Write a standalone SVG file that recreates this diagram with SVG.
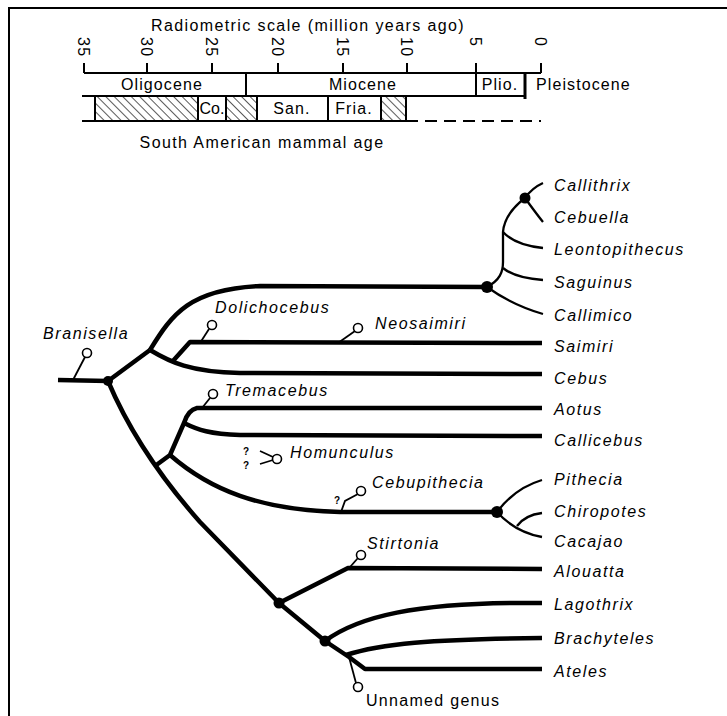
<svg xmlns="http://www.w3.org/2000/svg" width="727" height="716" viewBox="0 0 727 716">
<defs>
<pattern id="hatch" patternUnits="userSpaceOnUse" width="6" height="6" patternTransform="rotate(-45)">
<line x1="0" y1="0" x2="0" y2="6" stroke="#000" stroke-width="1.3"/>
</pattern>
<style>
.br{fill:none;stroke:#000;stroke-width:4.5;stroke-linejoin:round}
.thin{fill:none;stroke:#000;stroke-width:2.3}
.stem{fill:none;stroke:#000;stroke-width:1.8}
.fossil{fill:#fff;stroke:#000;stroke-width:1.6}
.dot{fill:#000}
.ax{fill:none;stroke:#000;stroke-width:2}
.lbl{font-family:"Liberation Sans",Arial,sans-serif;font-size:16px;font-style:italic;letter-spacing:1.6px;fill:#000}
.up{font-family:"Liberation Sans",Arial,sans-serif;font-size:16px;letter-spacing:1.3px;fill:#000}
.hdr{font-family:"Liberation Sans",Arial,sans-serif;font-size:16px;letter-spacing:1.1px;fill:#000}
.num{font-family:"Liberation Sans",Arial,sans-serif;font-size:16px;letter-spacing:1.4px;fill:#000}
.q{font-family:"Liberation Sans",Arial,sans-serif;font-size:10px;font-weight:bold;fill:#000}
</style>
</defs>
<rect width="727" height="716" fill="#fff"/>
<path class="ax" d="M9,716 L9,8 L727,8"/>

<g id="timescale">
<text class="hdr" x="308" y="31" text-anchor="middle" style="letter-spacing:1.4px">Radiometric scale (million years ago)</text>
<text class="num" transform="translate(78,37) rotate(90)">35</text>
<text class="num" transform="translate(141,37) rotate(90)">30</text>
<text class="num" transform="translate(206,37) rotate(90)">25</text>
<text class="num" transform="translate(272,37) rotate(90)">20</text>
<text class="num" transform="translate(337,37) rotate(90)">15</text>
<text class="num" transform="translate(401,37) rotate(90)">10</text>
<text class="num" transform="translate(470,37) rotate(90)">5</text>
<text class="num" transform="translate(535,37) rotate(90)">0</text>
<path class="ax" d="M84,63 L84,73 M147,63 L147,73 M212,63 L212,73 M278,63 L278,73 M343,63 L343,73 M407,63 L407,73 M476,63 L476,73 M541,63 L541,73 M84,73 L541,73"/>
<path class="ax" d="M82,96 L525,96 M246,73 L246,96 M476,73 L476,96"/>
<path d="M525,73 L525,99" stroke="#000" stroke-width="3"/>
<text class="hdr" x="162" y="90" text-anchor="middle">Oligocene</text>
<text class="hdr" x="363" y="90" text-anchor="middle">Miocene</text>
<text class="hdr" x="500" y="90" text-anchor="middle">Plio.</text>
<text class="hdr" x="536" y="90">Pleistocene</text>
<rect x="95" y="96" width="103" height="25" fill="url(#hatch)"/>
<rect x="226" y="96" width="31" height="25" fill="url(#hatch)"/>
<rect x="381" y="96" width="25" height="25" fill="url(#hatch)"/>
<path class="ax" d="M82,121 L406,121 M95,96 L95,121 M198,96 L198,121 M226,96 L226,121 M257,96 L257,121 M328,96 L328,121 M381,96 L381,121 M406,96 L406,121"/>
<path class="ax" d="M406,121 L541,121" stroke-dasharray="12 7"/>
<text class="hdr" x="212" y="114" text-anchor="middle" style="letter-spacing:0">Co.</text>
<text class="hdr" x="292" y="114" text-anchor="middle">San.</text>
<text class="hdr" x="354" y="114" text-anchor="middle">Fria.</text>
<text class="hdr" x="262" y="148" text-anchor="middle" style="letter-spacing:1.4px">South American mammal age</text>
</g>

<g id="connectors">
<path class="br" d="M58,380 L108,381 L150,350"/>
<path class="br" d="M150,350 C172,314 190,289 260,286 L487,287"/>
<path class="br" d="M150,350 C170,362 190,372 240,373 L542,374"/>
<path class="br" d="M172,362 L190,342 L542,343"/>
<path class="br" d="M108,381 Q138,452 200,522 L279,603 L325,641 L349,657 L365,669 L542,669"/>
<path class="br" d="M155,466 L170,455 L184,423 Q188,410 197,408 L542,408"/>
<path class="br" d="M184,423 C198,430 210,434 240,435 L542,436"/>
<path class="br" d="M170,455 C210,490 260,510 340,512 L497,512"/>
<path class="br" d="M279,603 L348,568 L542,569"/>
<path class="br" d="M325,641 C360,615 420,604 510,603 L542,603"/>
<path class="br" d="M346,655 C380,644 430,639 542,638"/>
<path class="thin" d="M487,287 C500,280 503,272 503,262 L503,232 C504,220 512,208 525,198"/>
<path class="thin" d="M525,198 Q532,188 543,183"/>
<path class="thin" d="M525,198 Q535,212 543,222"/>
<path class="thin" d="M503,232 Q515,245 543,248"/>
<path class="thin" d="M503,268 Q515,278 543,280"/>
<path class="thin" d="M487,287 Q512,305 543,314"/>
<path class="thin" d="M497,512 Q515,488 542,480"/>
<path class="thin" d="M497,512 Q515,532 542,537"/>
<path class="thin" d="M517,526 Q525,515 542,513"/>
<path class="stem" d="M73,380 L85,357"/>
<path class="stem" d="M200,343 L209,329"/>
<path class="stem" d="M338,343 L355,331"/>
<path class="stem" d="M202,408 L210,398"/>
<path class="stem" d="M260,451 L273,457 M260,464 L273,460"/>
<path class="stem" d="M341,512 L345,501 L358,494"/>
<path class="stem" d="M350,567 L358,558"/>
<path class="stem" d="M349,657 L356,683"/>
</g>

<g id="node-root"><circle class="dot" cx="108" cy="381" r="5"/></g>
<g id="node-callitrichinae"><circle class="dot" cx="487" cy="287" r="6"/></g>
<g id="node-callithrix-cebuella"><circle class="dot" cx="525" cy="198" r="5.5"/></g>
<g id="node-pitheciinae"><circle class="dot" cx="497" cy="512" r="6"/></g>
<g id="node-atelidae"><circle class="dot" cx="279" cy="603" r="5.5"/></g>
<g id="node-atelinae"><circle class="dot" cx="325" cy="641" r="5.5"/></g>

<g id="branisella"><circle class="fossil" cx="87" cy="353" r="4.5"/><text class="lbl" x="43" y="339">Branisella</text></g>
<g id="dolichocebus"><circle class="fossil" cx="212" cy="325" r="4.5"/><text class="lbl" x="215" y="313">Dolichocebus</text></g>
<g id="neosaimiri"><circle class="fossil" cx="358" cy="328" r="4.5"/><text class="lbl" x="375" y="329">Neosaimiri</text></g>
<g id="tremacebus"><circle class="fossil" cx="213" cy="394" r="4.5"/><text class="lbl" x="225" y="396">Tremacebus</text></g>
<g id="homunculus"><circle class="fossil" cx="277" cy="459" r="4.5"/><text class="q" x="243" y="455">?</text><text class="q" x="243" y="469">?</text><text class="lbl" x="290" y="458">Homunculus</text></g>
<g id="cebupithecia"><circle class="fossil" cx="361" cy="491" r="4.5"/><text class="q" x="334" y="504">?</text><text class="lbl" x="372" y="488">Cebupithecia</text></g>
<g id="stirtonia"><circle class="fossil" cx="361" cy="555" r="4.5"/><text class="lbl" x="367" y="549">Stirtonia</text></g>
<g id="unnamed-genus"><circle class="fossil" cx="358" cy="687" r="4.5"/><text class="up" x="366" y="706">Unnamed genus</text></g>

<g id="callithrix"><text class="lbl" x="554" y="191">Callithrix</text></g>
<g id="cebuella"><text class="lbl" x="554" y="223">Cebuella</text></g>
<g id="leontopithecus"><text class="lbl" x="554" y="255">Leontopithecus</text></g>
<g id="saguinus"><text class="lbl" x="554" y="288">Saguinus</text></g>
<g id="callimico"><text class="lbl" x="554" y="321">Callimico</text></g>
<g id="saimiri"><text class="lbl" x="554" y="352">Saimiri</text></g>
<g id="cebus"><text class="lbl" x="554" y="384">Cebus</text></g>
<g id="aotus"><text class="lbl" x="554" y="415">Aotus</text></g>
<g id="callicebus"><text class="lbl" x="554" y="446">Callicebus</text></g>
<g id="pithecia"><text class="lbl" x="554" y="485">Pithecia</text></g>
<g id="chiropotes"><text class="lbl" x="554" y="517">Chiropotes</text></g>
<g id="cacajao"><text class="lbl" x="554" y="547">Cacajao</text></g>
<g id="alouatta"><text class="lbl" x="554" y="577">Alouatta</text></g>
<g id="lagothrix"><text class="lbl" x="554" y="610">Lagothrix</text></g>
<g id="brachyteles"><text class="lbl" x="554" y="644">Brachyteles</text></g>
<g id="ateles"><text class="lbl" x="554" y="677">Ateles</text></g>
</svg>
